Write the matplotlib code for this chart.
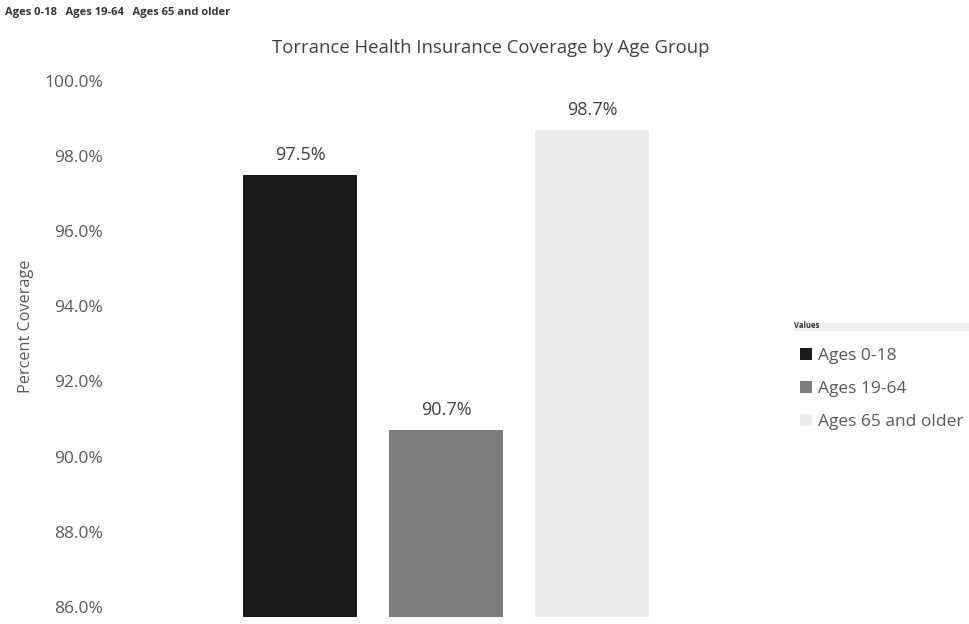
import matplotlib.pyplot as plt
from matplotlib.patches import Patch, Rectangle

plt.rcParams['font.family'] = ['Open Sans', 'DejaVu Sans']

# datos
grupos = ["Ages 0-18", "Ages 19-64", "Ages 65 and older"]
cobertura = [97.5, 90.7, 98.7]
colores = ["#1b1b1b", "#7d7d7d", "#ebebeb"]
ticks_y = [86, 88, 90, 92, 94, 96, 98, 100]

fig = plt.figure(figsize=(9.69, 6.24), dpi=100)
ax = fig.add_axes([140 / 969, 1 - 617 / 624, 620 / 969, (617 - 81) / 624])

posiciones = list(range(len(grupos)))
ax.bar(posiciones, cobertura, width=0.78, color=colores)
ax.set_ylim(85.73, 100)
ax.set_xlim(-1.096, 3.15)

for x, v in zip(posiciones, cobertura):
    ax.text(x, v + 0.3, f"{v:.1f}%", ha="center", va="bottom", fontsize=13, color="#404040")

ax.set_yticks(ticks_y)
ax.set_yticklabels([f"{t:.1f}%" for t in ticks_y], fontsize=12.5, color="#595959")
ax.tick_params(axis="y", length=0, pad=26.6)
ax.set_xticks([])
for s in ax.spines.values():
    s.set_visible(False)

fig.text(26 / 969, 1 - 326 / 624, "Percent Coverage", rotation=90, ha="center", va="center",
         fontsize=11.7, color="#595959")

fig.text(0.506, 1 - 48 / 624, "Torrance Health Insurance Coverage by Age Group",
         ha="center", va="center", fontsize=13.3, color="#404040")

# leyenda
handles = [Patch(facecolor=c, edgecolor="none") for c in colores]
fig.legend(handles, grupos, loc="upper left", bbox_to_anchor=(784 / 969, 1 - 332 / 624),
           frameon=False, fontsize=12.5, handlelength=0.7, handleheight=0.7,
           handletextpad=0.35, labelspacing=0.98, labelcolor="#595959")
fig.patches.append(Rectangle((793 / 969, 1 - 331 / 624), 176 / 969, 8 / 624,
                             transform=fig.transFigure, facecolor="#f0f0f0", edgecolor="none"))
fig.text(794 / 969, 1 - 326 / 624, "Values", fontsize=5.5, fontweight="bold",
         color="#333333", va="center")

# botones de filtro arriba
fig.text(0.005, 1 - 12 / 624, "Ages 0-18   Ages 19-64   Ages 65 and older",
         fontsize=8, fontweight="bold", color="#333333", va="center")

fig.savefig("out.png", dpi=100)
